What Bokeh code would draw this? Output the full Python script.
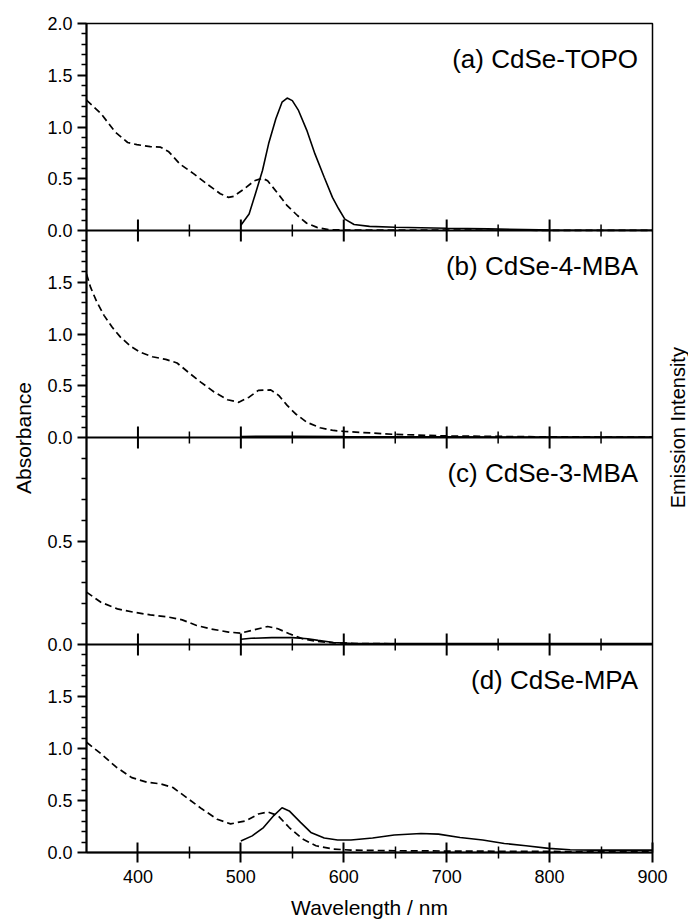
from math import pi
from bokeh.plotting import figure
from bokeh.models import Range1d, LinearAxis, FixedTicker, Label, Span
from bokeh.layouts import row
from bokeh.embed import file_html
from bokeh.resources import INLINE

FONT = "Liberation Sans"

# ---------------- data ----------------
panel_names = ["(a) CdSe-TOPO", "(b) CdSe-4-MBA", "(c) CdSe-3-MBA", "(d) CdSe-MPA"]

# (a) CdSe-TOPO
wl_abs_a = [350, 364, 378, 390, 399, 412, 422, 430, 441, 454, 467, 480, 488, 493, 503, 513,
            521, 526, 535, 545, 555, 564, 574, 585, 600, 650, 700, 800, 900]
abs_a = [1.26, 1.13, 0.95, 0.85, 0.83, 0.81, 0.805, 0.76, 0.64, 0.55, 0.45, 0.355, 0.32, 0.33,
         0.40, 0.48, 0.505, 0.48, 0.37, 0.24, 0.145, 0.07, 0.03, 0.008, 0.004, 0.003, 0.003,
         0.002, 0.002]
wl_em_a = [500, 508, 514, 521, 527, 534, 540, 545, 550, 556, 564, 572, 581, 589, 595, 601,
           610, 625, 650, 700, 740, 790, 800, 900]
em_a = [0.05, 0.16, 0.35, 0.58, 0.84, 1.08, 1.24, 1.28, 1.255, 1.16, 0.97, 0.74, 0.515, 0.32,
        0.21, 0.11, 0.058, 0.04, 0.032, 0.022, 0.016, 0.007, 0.004, 0.003]

# (b) CdSe-4-MBA
wl_abs_b = [350, 354, 360, 367, 375, 383, 393, 402, 414, 427, 438, 449, 461, 474, 487, 498,
            508, 517, 529, 537, 545, 553, 564, 577, 590, 601, 650, 700, 800, 900]
abs_b = [1.58, 1.45, 1.31, 1.18, 1.065, 0.97, 0.88, 0.825, 0.78, 0.755, 0.72, 0.63, 0.535,
         0.44, 0.365, 0.34, 0.39, 0.455, 0.46, 0.405, 0.31, 0.23, 0.148, 0.094, 0.068, 0.058,
         0.03, 0.015, 0.006, 0.004]
wl_em_b = [500, 550, 600, 650, 700, 750, 800, 850, 900]
em_b = [0.01, 0.012, 0.008, 0.006, 0.006, 0.005, 0.005, 0.005, 0.005]

# (c) CdSe-3-MBA
wl_abs_c = [350, 364, 380, 396, 412, 428, 443, 457, 470, 488, 500, 513, 526, 536, 547, 560,
            573, 590, 620, 700, 800, 900]
abs_c = [0.253, 0.204, 0.172, 0.156, 0.143, 0.134, 0.119, 0.092, 0.076, 0.06, 0.055, 0.071,
         0.087, 0.076, 0.052, 0.028, 0.016, 0.008, 0.004, 0.003, 0.003, 0.003]
wl_em_c = [500, 510, 530, 550, 565, 575, 590, 610, 700, 800, 900]
em_c = [0.025, 0.03, 0.033, 0.033, 0.028, 0.02, 0.01, 0.005, 0.004, 0.004, 0.004]

# (d) CdSe-MPA
wl_abs_d = [350, 364, 379, 394, 409, 422, 434, 447, 462, 477, 490, 505, 517, 526, 536, 547,
            560, 573, 590, 607, 650, 700, 750, 800, 900]
abs_d = [1.06, 0.95, 0.82, 0.72, 0.675, 0.66, 0.625, 0.53, 0.42, 0.32, 0.275, 0.305, 0.37,
         0.39, 0.355, 0.24, 0.13, 0.065, 0.033, 0.023, 0.017, 0.014, 0.012, 0.01, 0.008]
wl_em_d = [500, 511, 522, 532, 540, 547, 558, 568, 581, 594, 607, 628, 649, 675, 692, 713,
           735, 756, 777, 799, 820, 841, 900]
em_d = [0.11, 0.16, 0.24, 0.355, 0.43, 0.40, 0.29, 0.193, 0.139, 0.12, 0.12, 0.139, 0.168,
        0.183, 0.177, 0.145, 0.12, 0.087, 0.065, 0.04, 0.026, 0.023, 0.023]

# tick values and labels
x_major = [400, 500, 600, 700, 800, 900]
x_minor = [450, 550, 650, 750, 850]
y_major = [[0.0, 0.5, 1.0, 1.5, 2.0], [0.0, 0.5, 1.0, 1.5], [0.0, 0.5], [0.0, 0.5, 1.0, 1.5]]
y_labels = [["0.0", "0.5", "1.0", "1.5", "2.0"], ["0.0", "0.5", "1.0", "1.5"],
            ["0.0", "0.5"], ["0.0", "0.5", "1.0", "1.5"]]
y_max = [2.0, 2.0, 1.0, 2.0]
y_minor_step = 0.1

series = [(wl_abs_a, abs_a, wl_em_a, em_a), (wl_abs_b, abs_b, wl_em_b, em_b),
          (wl_abs_c, abs_c, wl_em_c, em_c), (wl_abs_d, abs_d, wl_em_d, em_d)]

# ---------------- layout ----------------
W, H = 688, 923
STRIP_W = 20                                   # right strip holding "Emission Intensity"
MAIN_W = W - STRIP_W
BORDER_L, BORDER_T, BORDER_B = 86, 23, 71
BORDER_R = MAIN_W - BORDER_L - 566
FRAME_H = H - BORDER_T - BORDER_B              # 829
PANEL_H = [207, 207, 207, 208]                 # top to bottom
PANEL_B = [622, 415, 208, 0]                   # panel bottoms, px above frame bottom

p = figure(width=MAIN_W, height=H, x_range=Range1d(350, 900), y_range=Range1d(0, FRAME_H),
           output_backend="svg", toolbar_location=None,
           x_axis_location=None, y_axis_location=None,
           min_border_left=BORDER_L, min_border_right=BORDER_R,
           min_border_top=BORDER_T, min_border_bottom=BORDER_B)
p.grid.visible = False
p.outline_line_color = "black"
p.outline_line_width = 1.5
p.background_fill_color = "white"
p.border_fill_color = "white"

# one y range per panel, so each panel's values go through its own scale
names = ["a", "b", "c", "d"]
for i, nm in enumerate(names):
    ppu = PANEL_H[i] / y_max[i]
    p.extra_y_ranges[nm] = Range1d(-PANEL_B[i] / ppu, (FRAME_H - PANEL_B[i]) / ppu)

# left axis: ticks of every panel
major_pos, minor_pos, overrides = [], [], {}
for i in range(4):
    ppu = PANEL_H[i] / y_max[i]
    for v, lab in zip(y_major[i], y_labels[i]):
        pos = round(PANEL_B[i] + v * ppu, 3)
        if pos not in major_pos:
            major_pos.append(pos)
            overrides[pos] = lab
    k = 1
    while k * y_minor_step < y_max[i] - 1e-9:
        v = k * y_minor_step
        if all(abs(v - m) > 1e-6 for m in y_major[i]) and abs(v - 0.5 * round(v / 0.5)) > 1e-6:
            minor_pos.append(round(PANEL_B[i] + v * ppu, 3))
        k += 1

yax = LinearAxis(ticker=FixedTicker(ticks=major_pos, minor_ticks=minor_pos))
yax.major_label_overrides = overrides
yax.major_tick_out = 9
yax.major_tick_in = 0
yax.minor_tick_out = 5
yax.minor_tick_in = 0
yax.major_tick_line_width = 2
yax.minor_tick_line_width = 1.5
yax.axis_line_width = 2
yax.major_label_standoff = 5
yax.major_label_text_font = FONT
yax.major_label_text_font_size = "18px"
yax.major_label_text_color = "black"
yax.axis_label = "Absorbance"
yax.axis_label_text_font = FONT
yax.axis_label_text_font_size = "21px"
yax.axis_label_text_font_style = "normal"
yax.axis_label_text_color = "black"
yax.axis_label_standoff = 9
p.add_layout(yax, "left")

# bottom axis
xax = LinearAxis(ticker=FixedTicker(ticks=x_major, minor_ticks=x_minor))
xax.major_tick_in = 10
xax.major_tick_out = 10
xax.minor_tick_in = 6
xax.minor_tick_out = 6
xax.major_tick_line_width = 2
xax.minor_tick_line_width = 1.5
xax.axis_line_width = 2
xax.major_label_standoff = 7
xax.major_label_text_font = FONT
xax.major_label_text_font_size = "18px"
xax.major_label_text_color = "black"
xax.axis_label = "Wavelength / nm"
xax.axis_label_text_font = FONT
xax.axis_label_text_font_size = "21px"
xax.axis_label_text_font_style = "normal"
xax.axis_label_standoff = 10
xax.axis_label_text_color = "black"
p.add_layout(xax, "below")

# panel boundaries with crossing ticks
for i in range(3):
    yb = PANEL_B[i]
    p.add_layout(Span(location=yb, dimension="width", line_color="black", line_width=2))
    p.segment(x0=x_major[:-1], y0=[yb - 11] * (len(x_major) - 1),
              x1=x_major[:-1], y1=[yb + 11] * (len(x_major) - 1),
              line_color="black", line_width=2)
    p.segment(x0=x_minor, y0=[yb - 6] * len(x_minor), x1=x_minor, y1=[yb + 6] * len(x_minor),
              line_color="black", line_width=1.5)

# spectra
for i, nm in enumerate(names):
    ax_, ay_, ex_, ey_ = series[i]
    p.line(ax_, ay_, y_range_name=nm, line_color="black", line_width=1.7, line_dash="7 4")
    p.line(ex_, ey_, y_range_name=nm, line_color="black", line_width=1.6)
    p.add_layout(Label(x=886, y=PANEL_B[i] + PANEL_H[i] - 35, text=panel_names[i],
                       text_align="right", text_baseline="alphabetic",
                       text_font=FONT, text_font_size="26px", text_color="black"))

# right strip with the second y title, reading upwards
s = figure(width=STRIP_W, height=H, x_range=Range1d(0, STRIP_W), y_range=Range1d(0, H),
           output_backend="svg", toolbar_location=None,
           x_axis_location=None, y_axis_location=None,
           min_border_left=0, min_border_right=0, min_border_top=0, min_border_bottom=0)
s.grid.visible = False
s.outline_line_color = None
s.background_fill_color = "white"
s.border_fill_color = "white"
s.add_layout(Label(x=9.5, y=H - 450, text="Emission Intensity", angle=pi / 2,
                   text_align="center", text_baseline="middle",
                   text_font=FONT, text_font_size="20px", text_color="black"))

layout = row(p, s, spacing=0)
open("out.html", "w").write(file_html(layout, INLINE))
